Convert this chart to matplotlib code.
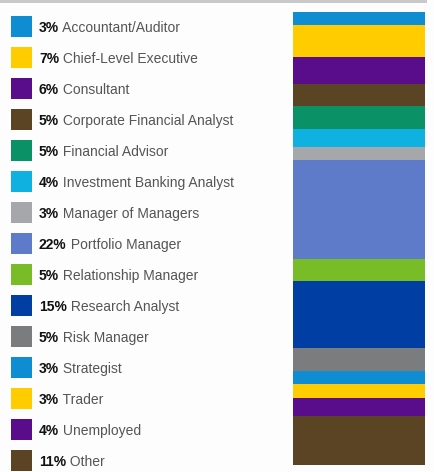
import matplotlib.pyplot as plt
from matplotlib.patches import Rectangle

plt.rcParams['font.family'] = ['Liberation Sans', 'DejaVu Sans']

# data
roles = ['Accountant/Auditor', 'Chief-Level Executive', 'Consultant',
         'Corporate Financial Analyst', 'Financial Advisor',
         'Investment Banking Analyst', 'Manager of Managers',
         'Portfolio Manager', 'Relationship Manager', 'Research Analyst',
         'Risk Manager', 'Strategist', 'Trader', 'Unemployed', 'Other']
shares = [3, 7, 6, 5, 5, 4, 3, 22, 5, 15, 5, 3, 3, 4, 11]
colors = ['#0e8dd3', '#ffcc00', '#5a0d8b', '#5b4424', '#0a9165',
          '#0fb1e0', '#a5a7aa', '#5e7bca', '#78bc27', '#003ea3',
          '#7b7c7e', '#0e8dd3', '#ffcc00', '#5a0d8b', '#5b4424']

W, H = 435, 472
fig = plt.figure(figsize=(W / 100, H / 100), dpi=100)
fig.patch.set_facecolor('#fdfdfd')

# thin gray rule along the top
fig.add_artist(Rectangle((0, 1 - 3 / H), 427 / W, 3 / H,
                         transform=fig.transFigure, color='#c9c9c9', lw=0))

# stacked bar
bax = fig.add_axes([293 / W, 7 / H, 132 / W, 453 / H])
bottom = 0
for s, c in zip(shares, colors):
    bax.bar(0, s, bottom=bottom, width=1, color=c, linewidth=0)
    bottom += s
bax.set_xlim(-0.5, 0.5)
bax.set_ylim(sum(shares), 0)
bax.axis('off')

# legend rows
lax = fig.add_axes([0, 0, 285 / W, 1])
row = 31
lax.set_xlim(0, 285)
lax.set_ylim((H - 26.5) / row, -26.5 / row)
lax.axis('off')
sq = 21 / row
for i, (name, s, c) in enumerate(zip(roles, shares, colors)):
    lax.add_patch(Rectangle((11, i - sq / 2), 21, sq, color=c, lw=0))
    t = lax.text(39, i, f'{s}%', fontsize=10, fontweight='bold',
                 color='#111111', va='center_baseline')
    lax.annotate(' ' + name, xy=(1, 0), xycoords=t, va='bottom',
                 fontsize=10, color='#555555')

fig.savefig('out.png', dpi=100, facecolor=fig.get_facecolor())
